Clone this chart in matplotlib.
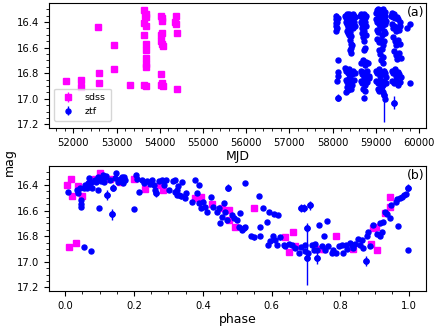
import matplotlib
matplotlib.use('Agg')
import matplotlib.pyplot as plt
from matplotlib.ticker import AutoMinorLocator

# ---------------- top panel: light curve vs MJD ----------------
sdss_mjd = [51830, 52178, 52178, 52564, 52595, 52595, 52935, 52935, 53319,
            53640, 53680, 53650, 53690, 53640, 53690, 53630, 53680, 53680, 53680,
            53680, 53690, 53630, 53690,
            54030, 54050, 54050, 54060, 54040, 54020, 54050, 54070, 54030, 54050, 54020, 54070,
            54380, 54360, 54375, 54410, 54395]
sdss_mag = [16.86, 16.85, 16.91, 16.44, 16.80, 16.88, 16.58, 16.77, 16.89,
            16.31, 16.34, 16.35, 16.36, 16.41, 16.43, 16.50, 16.57, 16.62, 16.68,
            16.73, 16.75, 16.89, 16.90,
            16.35, 16.37, 16.39, 16.49, 16.50, 16.55, 16.57, 16.59, 16.81, 16.88, 16.89, 16.90,
            16.35, 16.40, 16.42, 16.49, 16.92]

ztf_mjd = [
    # season 1
    58068, 58074, 58083, 58071, 58092, 58079, 58127, 58108,
    58121, 58116, 58126, 58113, 58122,
    # season 2
    58296, 58313, 58324, 58342, 58357, 58384, 58403, 58417, 58438, 58463, 58476, 58503, 58518,
    58307, 58331, 58352, 58368, 58397, 58412, 58447, 58472, 58488, 58512,
    58322, 58347, 58377, 58408, 58428,
    58402, 58423, 58437, 58413, 58432, 58446,
    58298, 58318, 58353, 58381, 58398, 58424, 58452, 58478, 58507,
    58312, 58337, 58372, 58396, 58433, 58458, 58493,
    58328, 58363, 58386, 58421, 58303,
    # season 3
    58642, 58662, 58678, 58703, 58718, 58742, 58757, 58783,
    58648, 58673, 58688, 58712, 58733, 58748, 58772,
    58683, 58698, 58723, 58738, 58763, 58752, 58727,
    58657, 58702, 58743, 58778, 58818,
    58653, 58677, 58708, 58737, 58768, 58803, 58838,
    58663, 58692, 58717, 58758, 58797, 58848,
    58697, 58744, 58722,
    # season 4
    59003, 59018, 59043, 59058, 59083, 59097, 59123, 59137, 59163, 59178, 59203, 59217,
    59008, 59033, 59047, 59073, 59088, 59113, 59127, 59153, 59168, 59193, 59208, 59238,
    59023, 59057, 59103, 59138, 59183, 59218,
    59037, 59083, 59117, 59163, 59197,
    59063, 59098, 59143, 59177, 59123, 59158,
    59002, 59027, 59063, 59087, 59123, 59147, 59183, 59207, 59243,
    59012, 59048, 59093, 59128, 59173, 59197, 59233,
    59043, 59077, 59118, 59163, 59200, 59223,
    # season 5
    59358, 59383, 59398, 59423, 59437, 59483, 59517, 59563,
    59368, 59403, 59427, 59463, 59497, 59543, 59568,
    59397, 59443, 59478, 59523, 59557,
    59418, 59463, 59497, 59543, 59578,
    59372, 59398, 59433, 59457, 59503, 59537, 59583,
    59377, 59423, 59457, 59503, 59558,
    59410,
    # season 6
    59712, 59800, 59790]
ztf_mag = [
    16.35, 16.38, 16.41, 16.43, 16.45, 16.47, 16.37, 16.40,
    16.70, 16.79, 16.82, 16.86, 16.99,
    16.35, 16.37, 16.34, 16.36, 16.35, 16.34, 16.36, 16.38, 16.35, 16.34, 16.37, 16.35, 16.36,
    16.40, 16.42, 16.44, 16.40, 16.43, 16.41, 16.42, 16.45, 16.40, 16.43,
    16.47, 16.49, 16.50, 16.48, 16.51,
    16.54, 16.57, 16.60, 16.62, 16.64, 16.58,
    16.76, 16.78, 16.80, 16.77, 16.82, 16.79, 16.81, 16.78, 16.80,
    16.85, 16.87, 16.84, 16.88, 16.86, 16.89, 16.85,
    16.91, 16.93, 16.90, 16.92, 16.95,
    16.35, 16.34, 16.36, 16.35, 16.34, 16.36, 16.37, 16.35,
    16.40, 16.42, 16.45, 16.41, 16.44, 16.40, 16.43,
    16.49, 16.52, 16.47, 16.55, 16.50, 16.60, 16.62,
    16.72, 16.70, 16.74, 16.71, 16.72,
    16.78, 16.81, 16.79, 16.83, 16.80, 16.78, 16.82,
    16.86, 16.88, 16.85, 16.89, 16.87, 16.84,
    16.92, 16.94, 16.99,
    16.33, 16.31, 16.34, 16.30, 16.32, 16.35, 16.31, 16.33, 16.30, 16.34, 16.32, 16.35,
    16.38, 16.40, 16.37, 16.42, 16.39, 16.41, 16.38, 16.43, 16.40, 16.38, 16.42, 16.39,
    16.46, 16.48, 16.45, 16.50, 16.47, 16.49,
    16.53, 16.56, 16.54, 16.58, 16.55,
    16.62, 16.65, 16.61, 16.67, 16.70, 16.72,
    16.78, 16.80, 16.77, 16.82, 16.79, 16.81, 16.78, 16.80, 16.83,
    16.86, 16.88, 16.85, 16.87, 16.89, 16.86, 16.88,
    16.92, 16.94, 16.91, 16.95, 16.97, 17.00,
    16.35, 16.33, 16.36, 16.34, 16.37, 16.36, 16.38, 16.40,
    16.42, 16.45, 16.43, 16.47, 16.44, 16.46, 16.43,
    16.52, 16.55, 16.58, 16.54, 16.57,
    16.63, 16.66, 16.69, 16.64, 16.68,
    16.78, 16.80, 16.77, 16.82, 16.79, 16.81, 16.83,
    16.86, 16.88, 16.85, 16.89, 16.87,
    17.03,
    16.45, 16.42, 16.88]
# a few ZTF epochs with large error bars
ztf_big_err_mjd = [58122, 59200, 59410]
ztf_big_err_mag = [16.99, 16.97, 17.03]
ztf_big_err = [0.03, 0.21, 0.05]

# ---------------- bottom panel: folded light curve ----------------
sdss_phase = [0.004, 0.017, 0.021, 0.036, 0.050, 0.011, 0.031, 0.087, 0.102, 0.131, 0.160,
              0.200, 0.232, 0.275, 0.283,
              0.378, 0.395, 0.426, 0.455, 0.477, 0.477, 0.494, 0.550, 0.640, 0.651, 0.661, 0.667,
              0.730, 0.743, 0.753, 0.788, 0.838, 0.889, 0.894, 0.904, 0.906, 0.930, 0.943, 0.945]
sdss_pmag = [16.40, 16.353, 16.486, 16.405, 16.486, 16.882, 16.851, 16.35, 16.31, 16.355, 16.374,
             16.353, 16.43, 16.40, 16.44,
             16.504, 16.496, 16.551, 16.577, 16.595, 16.673, 16.726, 16.577, 16.81, 16.926, 16.77, 16.879,
             16.90, 16.90, 16.90, 16.796, 16.90, 16.86, 16.74, 16.73, 16.91, 16.62, 16.57, 16.496]

ztf_phase = [
    0.009, 0.033, 0.038, 0.043, 0.047, 0.047, 0.047, 0.055, 0.059, 0.062, 0.065, 0.069, 0.072,
    0.075, 0.078, 0.086, 0.090, 0.094, 0.095, 0.098, 0.104, 0.105, 0.110, 0.113, 0.117, 0.120,
    0.123, 0.130, 0.135, 0.140, 0.144, 0.149, 0.154, 0.159, 0.160, 0.164, 0.169, 0.170, 0.173,
    0.055, 0.076, 0.200, 0.207, 0.210, 0.214, 0.222, 0.230, 0.239, 0.246, 0.251, 0.259, 0.262,
    0.265, 0.272, 0.282, 0.288, 0.294, 0.301, 0.314, 0.319, 0.324, 0.327,
    0.320, 0.325, 0.330, 0.339, 0.337, 0.349, 0.352, 0.368, 0.378, 0.383, 0.388, 0.390, 0.395,
    0.402, 0.407, 0.412, 0.424, 0.431, 0.441, 0.446, 0.451, 0.455, 0.463, 0.465, 0.470, 0.473,
    0.485, 0.492, 0.499, 0.504, 0.509, 0.514, 0.519, 0.523, 0.523, 0.541, 0.548, 0.564, 0.567,
    0.567, 0.574, 0.586, 0.593, 0.603, 0.608, 0.620, 0.589, 0.596, 0.610, 0.615, 0.625, 0.635,
    0.640, 0.650, 0.660, 0.668, 0.680, 0.686, 0.693,
    0.691, 0.685, 0.698, 0.698, 0.707, 0.704, 0.704, 0.712, 0.717, 0.722, 0.727, 0.732, 0.732,
    0.739, 0.746, 0.751, 0.756, 0.762, 0.765, 0.775, 0.780, 0.788, 0.797, 0.804, 0.808, 0.815,
    0.820, 0.827, 0.833, 0.838, 0.843, 0.850, 0.856, 0.862, 0.867, 0.875, 0.877, 0.881, 0.887,
    0.896, 0.906, 0.914, 0.915, 0.920, 0.925, 0.930, 0.937, 0.943, 0.947, 0.969, 0.962, 0.966,
    0.974, 0.979, 0.986, 0.992, 0.996, 0.998]
ztf_pmag = [
    16.452, 16.44, 16.465, 16.426, 16.517, 16.55, 16.57, 16.426, 16.40, 16.42, 16.387, 16.348, 16.39,
    16.374, 16.426, 16.36, 16.38, 16.44, 16.34, 16.582, 16.348, 16.37, 16.32, 16.374, 16.335, 16.33,
    16.478, 16.36, 16.63, 16.42, 16.348, 16.309, 16.374, 16.35, 16.37, 16.335, 16.387, 16.34, 16.36,
    16.882, 16.916, 16.588, 16.32, 16.35, 16.457, 16.36, 16.387, 16.37, 16.39, 16.36, 16.40, 16.44,
    16.465, 16.37, 16.36, 16.40, 16.36, 16.44, 16.37, 16.452, 16.48, 16.41,
    16.36, 16.44, 16.478, 16.374, 16.49, 16.504, 16.465, 16.53, 16.36, 16.46, 16.543, 16.40, 16.577,
    16.53, 16.57, 16.608, 16.496, 16.57, 16.608, 16.58, 16.70, 16.647, 16.543, 16.608, 16.673, 16.42,
    16.634, 16.66, 16.673, 16.726, 16.62, 16.75, 16.74, 16.726, 16.387, 16.80, 16.81, 16.483, 16.726,
    16.80, 16.577, 16.687, 16.608, 16.80, 16.63, 16.634, 16.87, 16.84, 16.83, 16.87, 16.81, 16.87,
    16.88, 16.86, 16.87, 16.89, 16.93, 16.58, 16.58,
    16.582, 16.882, 16.916, 16.87, 16.93, 16.97, 16.733, 16.56, 16.87, 16.91, 16.86, 16.97, 16.91,
    16.71, 16.88, 16.796, 16.91, 16.68, 16.88, 16.93, 16.91, 16.93, 16.88, 16.87, 16.93, 16.87,
    16.90, 16.85, 16.87, 16.895, 16.86, 16.82, 16.87, 16.83, 16.895, 16.994, 16.80, 16.77, 16.88,
    16.71, 16.78, 16.80, 16.70, 16.77, 16.69, 16.61, 16.63, 16.66, 16.56, 16.718, 16.53, 16.51,
    16.50, 16.495, 16.48, 16.47, 16.42, 16.91]
# phase points with large error bars
ztf_pbig_phase = [0.123, 0.135, 0.140, 0.265, 0.473, 0.686, 0.693, 0.704, 0.704, 0.712, 0.732, 0.875, 0.996]
ztf_pbig_mag = [16.478, 16.63, 16.42, 16.465, 16.42, 16.58, 16.58, 16.97, 16.733, 16.56, 16.97, 16.994, 16.42]
ztf_pbig_err = [0.04, 0.045, 0.03, 0.03, 0.03, 0.035, 0.03, 0.21, 0.035, 0.035, 0.045, 0.04, 0.03]

mjd_ticks = [52000, 53000, 54000, 55000, 56000, 57000, 58000, 59000, 60000]
mag_ticks = [16.4, 16.6, 16.8, 17.0, 17.2]
phase_ticks = [0.0, 0.2, 0.4, 0.6, 0.8, 1.0]

PINK = '#ff00ff'
BLUE = '#0000ff'
SQ_MS = 4.8
DOT_MS = 3.6

fig = plt.figure(figsize=(4.36, 3.27), dpi=100)
ax1 = fig.add_axes([0.1124, 0.6086, 0.8647, 0.3823])
ax2 = fig.add_axes([0.1124, 0.1101, 0.8647, 0.3823])

# top
ax1.errorbar(sdss_mjd, sdss_mag, yerr=[0.012] * len(sdss_mag), fmt='s', color=PINK,
             ms=SQ_MS, elinewidth=1.0, capsize=0, label='sdss', zorder=2)
ax1.errorbar(ztf_mjd, ztf_mag, yerr=[0.016] * len(ztf_mag), fmt='o', color=BLUE,
             ms=DOT_MS, elinewidth=1.0, capsize=0, label='ztf', zorder=3)
ax1.errorbar(ztf_big_err_mjd, ztf_big_err_mag, yerr=ztf_big_err, fmt='o', color=BLUE,
             ms=DOT_MS, elinewidth=1.0, capsize=0, zorder=3)
ax1.set_xlim(51437, 60162)
ax1.set_ylim(17.228, 16.252)
ax1.set_xticks(mjd_ticks)
ax1.set_yticks(mag_ticks)
ax1.set_xlabel('MJD', fontsize=9, labelpad=2)
ax1.text(0.995, 0.975, '(a)', transform=ax1.transAxes, ha='right', va='top', fontsize=9)
ax1.legend(loc='lower left', fontsize=6.8, frameon=True, borderpad=0.5,
           handletextpad=0.8, bbox_to_anchor=(0.0, 0.02))

# bottom
ax2.errorbar(sdss_phase, sdss_pmag, yerr=[0.012] * len(sdss_pmag), fmt='s', color=PINK,
             ms=SQ_MS, elinewidth=1.0, capsize=0, zorder=2)
ax2.errorbar(ztf_phase, ztf_pmag, yerr=[0.016] * len(ztf_pmag), fmt='o', color=BLUE,
             ms=DOT_MS, elinewidth=1.0, capsize=0, zorder=3)
ax2.errorbar(ztf_pbig_phase, ztf_pbig_mag, yerr=ztf_pbig_err, fmt='o', color=BLUE,
             ms=DOT_MS, elinewidth=1.0, capsize=0, zorder=3)
ax2.set_xlim(-0.047, 1.049)
ax2.set_ylim(17.228, 16.252)
ax2.set_xticks(phase_ticks)
ax2.set_yticks(mag_ticks)
ax2.set_xlabel('phase', fontsize=9, labelpad=2)
ax2.text(0.995, 0.975, '(b)', transform=ax2.transAxes, ha='right', va='top', fontsize=9)

for ax in (ax1, ax2):
    ax.xaxis.set_minor_locator(AutoMinorLocator())
    ax.yaxis.set_minor_locator(AutoMinorLocator())
    ax.tick_params(which='both', direction='out', top=False, right=False, labelsize=7.2)
    ax.tick_params(which='major', length=3.5)
    ax.tick_params(which='minor', length=2)

fig.text(0.022, 0.505, 'mag', rotation=90, ha='center', va='center', fontsize=9)

fig.savefig('out.png', dpi=100)
